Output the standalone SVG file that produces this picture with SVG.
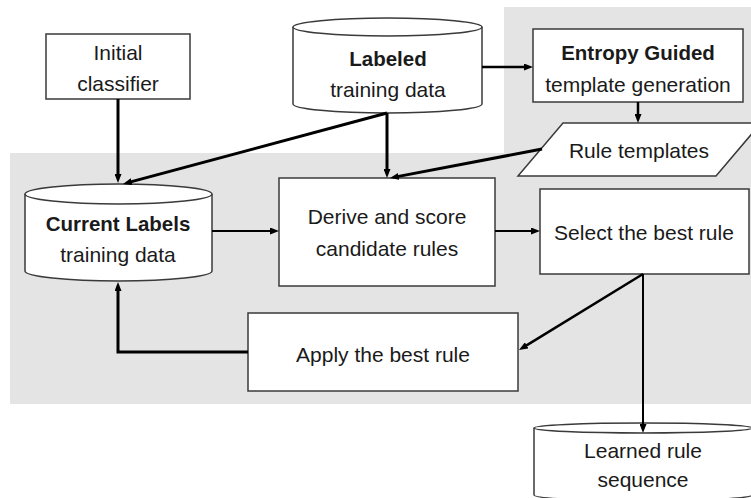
<svg xmlns="http://www.w3.org/2000/svg" width="751" height="498" viewBox="0 0 751 498">
  <style>
    .shape { fill: #ffffff; stroke: #3a3a3a; stroke-width: 1.5; }
    .txt { font-family: "Liberation Sans", Arial, Helvetica, sans-serif; font-size: 21px; fill: #1a1a1a; text-anchor: middle; }
    .b { font-weight: bold; font-size: 20.5px; }
    .edge { fill: none; stroke: #000000; stroke-linejoin: miter; marker-end: url(#ah); }
    .w3 { stroke-width: 3; }
    .w25 { stroke-width: 2.5; }
    .w2 { stroke-width: 2; }
  </style>
  <defs>
    <marker id="ah" viewBox="0 0 9 7" refX="3" refY="3.5" markerWidth="9" markerHeight="7" markerUnits="userSpaceOnUse" orient="auto">
      <path d="M0,0 L9,3.5 L0,7 z" fill="#000000"/>
    </marker>
  </defs>

  <rect width="751" height="498" fill="#ffffff"/>

  <!-- shaded learning-loop region -->
  <polygon points="10,153 504,153 504,7 751,7 751,404 10,404" fill="#e4e4e4"/>

  <!-- Initial classifier -->
  <g id="initial-classifier">
    <rect class="shape" x="46" y="34" width="144" height="65"/>
    <text class="txt" x="118" y="60">Initial</text>
    <text class="txt" x="118" y="91">classifier</text>
  </g>

  <!-- Labeled training data (cylinder) -->
  <g id="labeled-data">
    <path class="shape" d="M293,27 V104 A94.5,9 0 0 0 482,104 V27"/>
    <ellipse class="shape" cx="387.5" cy="27" rx="94.5" ry="9"/>
    <text class="txt b" x="388" y="66">Labeled</text>
    <text class="txt" x="388" y="97">training data</text>
  </g>

  <!-- Entropy guided template generation -->
  <g id="entropy-guided">
    <rect class="shape" x="533" y="29" width="210" height="73"/>
    <text class="txt b" x="638" y="60">Entropy Guided</text>
    <text class="txt" x="638" y="92">template generation</text>
  </g>

  <!-- Rule templates (parallelogram) -->
  <g id="rule-templates">
    <polygon class="shape" points="563,123 761,123 716,176 518,176"/>
    <text class="txt" x="639" y="158">Rule templates</text>
  </g>

  <!-- Current labels training data (cylinder) -->
  <g id="current-labels">
    <path class="shape" d="M25,194 V271 A93.5,10 0 0 0 212,271 V194"/>
    <ellipse class="shape" cx="118.5" cy="194" rx="93.5" ry="10"/>
    <text class="txt b" x="118" y="231">Current Labels</text>
    <text class="txt" x="118" y="262">training data</text>
  </g>

  <!-- Derive and score candidate rules -->
  <g id="derive-score">
    <rect class="shape" x="279" y="178" width="216" height="108"/>
    <text class="txt" x="387" y="224">Derive and score</text>
    <text class="txt" x="387" y="256">candidate rules</text>
  </g>

  <!-- Select the best rule -->
  <g id="select-best">
    <rect class="shape" x="540" y="189" width="209" height="85"/>
    <text class="txt" x="644" y="240">Select the best rule</text>
  </g>

  <!-- Apply the best rule -->
  <g id="apply-best">
    <rect class="shape" x="248" y="313" width="270" height="78"/>
    <text class="txt" x="383" y="362">Apply the best rule</text>
  </g>

  <!-- Learned rule sequence (cylinder) -->
  <g id="learned-sequence">
    <path class="shape" d="M534,428 V495 A109,6 0 0 0 752,495 V428"/>
    <ellipse class="shape" cx="643" cy="428" rx="109" ry="5"/>
    <text class="txt" x="643" y="458">Learned rule</text>
    <text class="txt" x="643" y="487">sequence</text>
  </g>

  <!-- connectors, drawn last so arrowheads sit over the cylinder tops -->
  <g id="connectors">
    <path class="edge w3" d="M118,99 V177"/>
    <path class="edge w3" d="M387,113 L128.8,182.4"/>
    <path class="edge w3" d="M387,113 V172"/>
    <path class="edge w25" d="M482,67 H527"/>
    <path class="edge w25" d="M638,102 V117"/>
    <path class="edge w3" d="M542,149 L395.9,176.9"/>
    <path class="edge w2" d="M212,231 H273"/>
    <path class="edge w2" d="M495,231 H534"/>
    <path class="edge w25" d="M643,274 L524.1,346.9"/>
    <path class="edge w2" d="M643,274 V427"/>
    <path class="edge w3" d="M248,352 H118 V288"/>
  </g>
</svg>
